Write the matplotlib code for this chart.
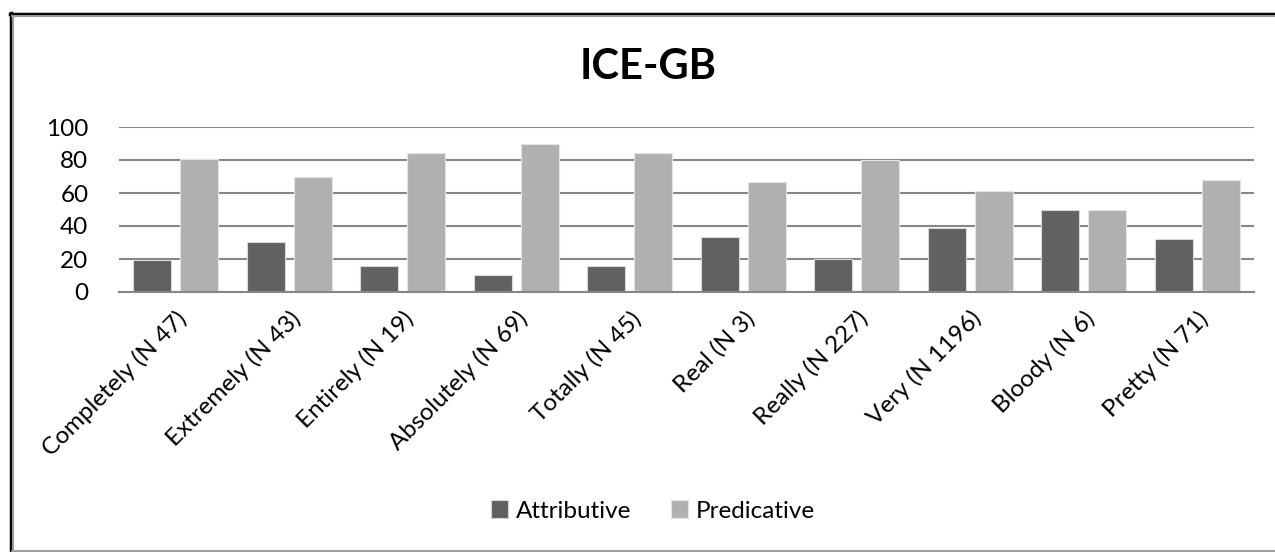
"""ICE-GB: attributive vs predicative use per intensifier (grouped bar chart)."""

import matplotlib

matplotlib.use("Agg")
import matplotlib.pyplot as plt
import numpy as np
from matplotlib.lines import Line2D

categories = ["Completely (N 47)", "Extremely (N 43)", "Entirely (N 19)", "Absolutely (N 69)",
              "Totally (N 45)", "Real (N 3)", "Really (N 227)", "Very (N 1196)", "Bloody (N 6)", "Pretty (N 71)"]
attributive = [19.1, 30.2, 15.8, 10.1, 15.6, 33.3, 19.8, 38.9, 50.0, 32.4]
predicative = [80.9, 69.8, 84.2, 89.9, 84.4, 66.7, 80.2, 61.1, 50.0, 67.6]
y_ticks = [0, 20, 40, 60, 80, 100]

W, H = 1275, 552
plt.rcParams["font.family"] = ["Lato", "DejaVu Sans"]

figure = plt.figure(figsize=(W / 100, H / 100), dpi=100)
axis = figure.add_axes([119 / W, 1 - 292 / H, (1254 - 119) / W, (292 - 127) / H])

x = np.arange(len(categories))
bar_width = 0.335
offset = 0.207
axis.bar(x - offset, attributive, bar_width, color="#616161", edgecolor="#d8d8d8", linewidth=0.8,
         label="Attributive", zorder=3)
axis.bar(x + offset, predicative, bar_width, color="#b0b0b0", edgecolor="#e4e4e4", linewidth=0.8,
         label="Predicative", zorder=3)

axis.set_xlim(-0.5, len(categories) - 0.5)
axis.set_ylim(0, 100)
axis.set_yticks(y_ticks)
axis.set_yticklabels([str(v) for v in y_ticks], fontsize=17.5)
axis.set_xticks(x)
axis.set_xticklabels(categories, rotation=45, ha="right", rotation_mode="anchor", fontsize=17.5)
axis.tick_params(axis="y", length=0, pad=22)
axis.tick_params(axis="x", length=0, pad=11)
axis.yaxis.grid(True, color="#868686", linewidth=1.5, zorder=0)
for side in ("left", "right", "top"):
    axis.spines[side].set_visible(False)
axis.spines["bottom"].set_color("#868686")
axis.spines["bottom"].set_linewidth(1.5)
axis.spines["bottom"].set_zorder(4)

figure.text(648 / W, 1 - 67 / H, "ICE-GB", ha="center", va="center", fontsize=30, fontweight="bold")
figure.legend(loc="center", bbox_to_anchor=(653 / W, 1 - 511 / H), ncol=2, frameon=False, fontsize=17.5,
              handlelength=0.7, handleheight=0.7, handletextpad=0.35, columnspacing=1.6)

# frame around the chart
def px(xs, ys):
    return [v / W for v in xs], [1 - v / H for v in ys]

for xs, ys, color, lw in [
    ([10.5, 10.5], [13, 552], "black", 2.5),
    ([10, 1275], [13.5, 13.5], "black", 2.5),
    ([13, 13], [15.5, 552], "#9a9a9a", 1.5),
    ([12, 1275], [16, 16], "#9a9a9a", 1.5),
    ([12, 1275], [550.5, 550.5], "#9a9a9a", 2.0),
]:
    xf, yf = px(xs, ys)
    figure.add_artist(Line2D(xf, yf, transform=figure.transFigure, color=color, linewidth=lw))

figure.savefig("out.png", dpi=100)
